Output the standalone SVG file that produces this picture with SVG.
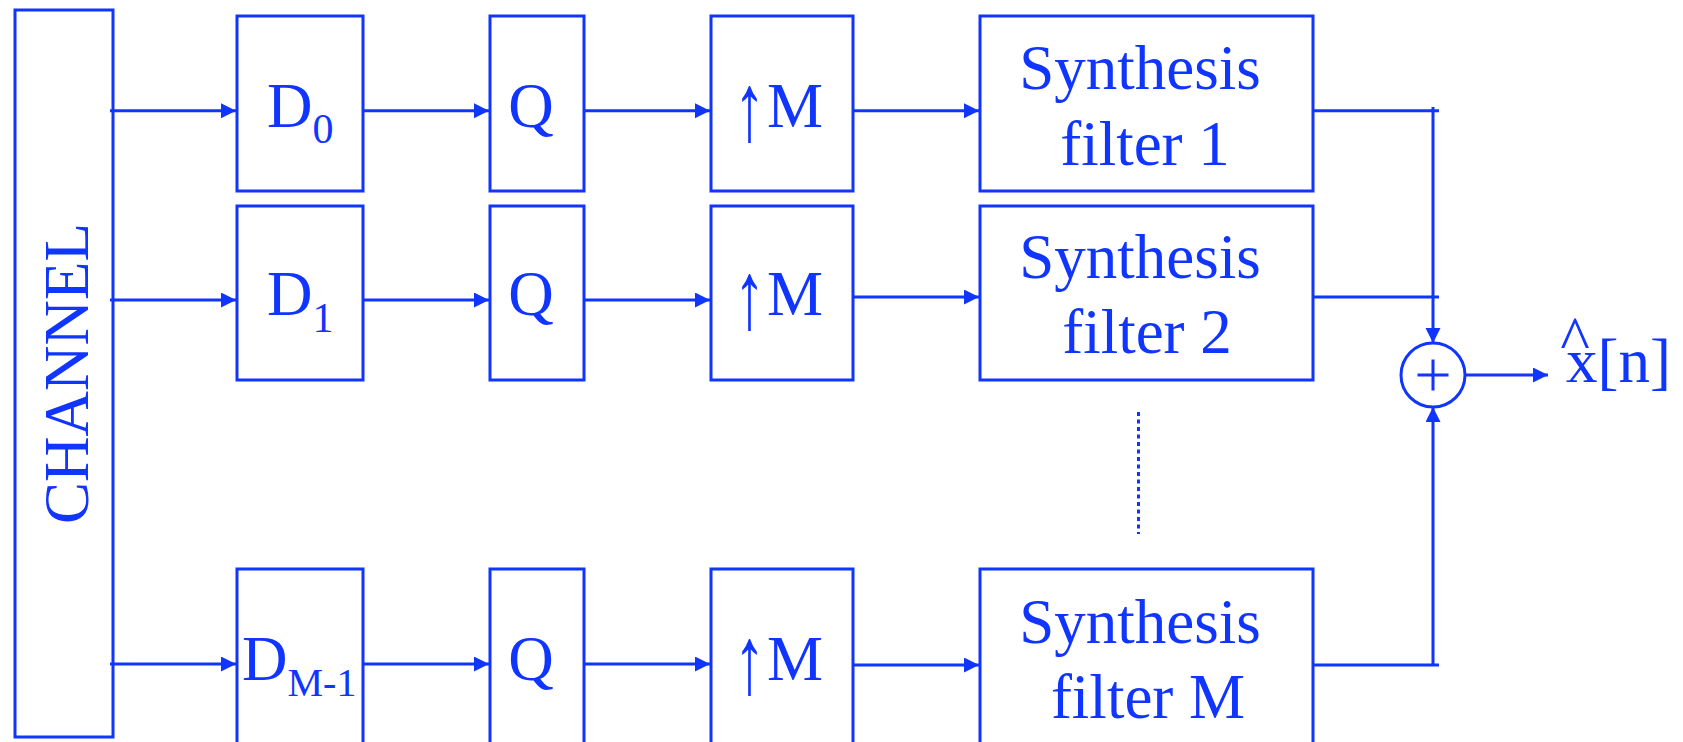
<svg xmlns="http://www.w3.org/2000/svg" width="1683" height="742" viewBox="0 0 1683 742">
<defs>
<style>
.box{fill:none;stroke:#1035FF;stroke-width:3}
.ln{fill:none;stroke:#1035FF;stroke-width:3}
.t{font-family:"Liberation Serif","Times New Roman",serif;font-size:63px;fill:#1035FF}
</style>
<marker id="ah" markerUnits="userSpaceOnUse" markerWidth="16" markerHeight="16" refX="15" refY="7.5" orient="auto">
<path d="M0,0 L15,7.5 L0,15 z" fill="#1035FF"/>
</marker>
</defs>
<rect width="1683" height="742" fill="#fff"/>
<g id="channel">
<rect class="box" x="15" y="10" width="98" height="727"/>
<text class="t" transform="translate(88,373.5) rotate(-90)" text-anchor="middle">CHANNEL</text>
</g>
<g id="d0"><rect class="box" x="237" y="16" width="126" height="175"/><text class="t" x="267" y="126.7">D<tspan font-size="42" dy="16.6">0</tspan></text></g>
<g id="d1"><rect class="box" x="237" y="206" width="126" height="174"/><text class="t" x="267" y="315">D<tspan font-size="42" dy="16.6">1</tspan></text></g>
<g id="dm1"><rect class="box" x="237" y="569" width="126" height="175"/><text class="t" x="242" y="680">D<tspan font-size="40" dy="16">M-1</tspan></text></g>
<g id="q0"><rect class="box" x="490" y="16" width="94" height="175"/><text class="t" x="531" y="126.7" text-anchor="middle">Q</text></g>
<g id="q1"><rect class="box" x="490" y="206" width="94" height="174"/><text class="t" x="531" y="315" text-anchor="middle">Q</text></g>
<g id="q2"><rect class="box" x="490" y="569" width="94" height="175"/><text class="t" x="531" y="680" text-anchor="middle">Q</text></g>
<g id="up0"><rect class="box" x="711" y="16" width="142" height="175"/><text class="t" transform="translate(749.5,139.5) scale(1,1.53)" text-anchor="middle">↑</text><text class="t" x="767" y="126.7">M</text></g>
<g id="up1"><rect class="box" x="711" y="206" width="142" height="174"/><text class="t" transform="translate(749.5,327.8) scale(1,1.53)" text-anchor="middle">↑</text><text class="t" x="767" y="315">M</text></g>
<g id="up2"><rect class="box" x="711" y="569" width="142" height="175"/><text class="t" transform="translate(749.5,692.8) scale(1,1.53)" text-anchor="middle">↑</text><text class="t" x="767" y="680">M</text></g>
<g id="syn1"><rect class="box" x="980" y="16" width="333" height="175"/><text class="t" x="1140" y="89.3" text-anchor="middle">Synthesis</text><text class="t" x="1145" y="165" text-anchor="middle">filter 1</text></g>
<g id="syn2"><rect class="box" x="980" y="206" width="333" height="174"/><text class="t" x="1140" y="278.3" text-anchor="middle">Synthesis</text><text class="t" x="1147" y="353.3" text-anchor="middle">filter 2</text></g>
<g id="synm"><rect class="box" x="980" y="569" width="333" height="175"/><text class="t" x="1140" y="642.7" text-anchor="middle">Synthesis</text><text class="t" x="1148" y="718.3" text-anchor="middle">filter M</text></g>
<g id="sum"><circle class="box" cx="1433" cy="375" r="32"/><path class="ln" d="M1417.5,375 H1448.5 M1433,359.5 V390.5"/></g>
<g id="output"><text class="t" x="1575" y="360" text-anchor="middle">^</text><text class="t" x="1566" y="381.7" font-size="62">x[n]</text></g>
<g id="connectors">
<path class="ln" d="M110,110.7 H236" marker-end="url(#ah)"/>
<path class="ln" d="M363,110.7 H489" marker-end="url(#ah)"/>
<path class="ln" d="M584,110.7 H710" marker-end="url(#ah)"/>
<path class="ln" d="M853,110.7 H979" marker-end="url(#ah)"/>
<path class="ln" d="M110,300 H236" marker-end="url(#ah)"/>
<path class="ln" d="M363,300 H489" marker-end="url(#ah)"/>
<path class="ln" d="M584,300 H710" marker-end="url(#ah)"/>
<path class="ln" d="M853,297 H979" marker-end="url(#ah)"/>
<path class="ln" d="M110,664 H236" marker-end="url(#ah)"/>
<path class="ln" d="M363,664 H489" marker-end="url(#ah)"/>
<path class="ln" d="M584,664 H710" marker-end="url(#ah)"/>
<path class="ln" d="M853,665 H979" marker-end="url(#ah)"/>
<path class="ln" d="M1313,110.7 H1439 M1313,297 H1439 M1313,665 H1439"/>
<path class="ln" d="M1433,107 V343" marker-end="url(#ah)"/>
<path class="ln" d="M1433,665 V407" marker-end="url(#ah)"/>
<path class="ln" d="M1465,375 H1548" marker-end="url(#ah)"/>
<path class="ln" d="M1138.5,412 V534" stroke-width="3.5" stroke-dasharray="4 3.5"/>
</g>
</svg>
